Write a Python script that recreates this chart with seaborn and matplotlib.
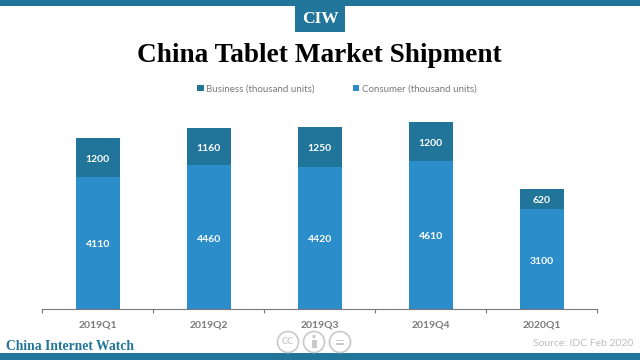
import matplotlib
matplotlib.use("Agg")
import matplotlib.pyplot as plt
from matplotlib.patches import Rectangle, Ellipse
import pandas as pd
import seaborn as sns

quarters = ["2019Q1", "2019Q2", "2019Q3", "2019Q4", "2020Q1"]
consumer = [4110, 4460, 4420, 4610, 3100]
business = [1200, 1160, 1250, 1200, 620]
total = [c + b for c, b in zip(consumer, business)]

DARK = "#21759b"
LIGHT = "#2b8dca"
GREY = "#7a7a7a"
W, H = 640, 360

sns.set_theme(style="white")
plt.rcParams["font.family"] = ["Lato", "DejaVu Sans"]
fig = plt.figure(figsize=(6.4, 3.6), dpi=100)
ax = fig.add_axes([42.3 / W, 1 - 309 / H, 555 / W, 209 / H])

df = pd.DataFrame({"q": quarters, "consumer": consumer, "business": business, "total": total})
# Stack: draw totals (business colour) behind, consumer in front
sns.barplot(data=df, x="q", y="total", color=DARK, saturation=1, width=0.395, ax=ax, linewidth=0,
            label="Business (thousand units)")
sns.barplot(data=df, x="q", y="consumer", color=LIGHT, saturation=1, width=0.395, ax=ax, linewidth=0,
            label="Consumer (thousand units)")

ax.set_xlim(-0.5, 4.5)
ax.set_ylim(0, 6495)
for i, (c, b) in enumerate(zip(consumer, business)):
    ax.annotate(str(c), (i, c / 2), xytext=(0, -1.5), textcoords="offset points", ha="center", va="center",
                color="white", fontsize=7.5, fontweight="bold")
    ax.annotate(str(b), (i, c + b / 2), xytext=(0, -1.2), textcoords="offset points", ha="center", va="center",
                color="white", fontsize=7.5, fontweight="bold")

ax.set_xlabel("")
ax.set_ylabel("")
ax.set_yticks([])
ax.set_xticks([i - 0.5 for i in range(6)], minor=True)
ax.set_xticks(range(5), quarters)
ax.tick_params(axis="x", which="major", length=0, pad=8, labelsize=7.5, labelcolor=GREY)
ax.tick_params(axis="x", which="minor", length=3, width=0.8, color=GREY, bottom=True, direction="out")
for lab in ax.get_xticklabels():
    lab.set_fontweight("bold")
for s in ["top", "left", "right"]:
    ax.spines[s].set_visible(False)
ax.spines["bottom"].set_color(GREY)
ax.spines["bottom"].set_linewidth(0.8)

leg = ax.legend(loc="center", bbox_to_anchor=(337 / W, 1 - 89 / H), bbox_transform=fig.transFigure,
                ncol=2, frameon=False, fontsize=7.0, handlelength=0.65, handleheight=0.65,
                handletextpad=0.3, columnspacing=3.9, labelcolor=GREY)

def rect(x0, y0, x1, y1, color):
    fig.add_artist(Rectangle((x0 / W, 1 - y1 / H), (x1 - x0) / W, (y1 - y0) / H,
                             transform=fig.transFigure, color=color, lw=0))

rect(0, 0, W, 6, DARK)
rect(0, 353, W, H, DARK)
rect(295, 6, 345, 32, DARK)
fig.text(320 / W, 1 - 19 / H, "CIW", ha="center", va="center", color="white", fontsize=12.5,
         fontweight="bold", family="Liberation Serif")
fig.text(319.5 / W, 1 - 56 / H, "China Tablet Market Shipment", ha="center", va="center", color="black",
         fontsize=19.6, fontweight="bold", family="Liberation Serif")
fig.text(6 / W, 1 - 346 / H, "China Internet Watch", ha="left", va="center", color=DARK, fontsize=9.85,
         fontweight="bold", family="Liberation Serif")
fig.text(633 / W, 1 - 343 / H, "Source: IDC Feb 2020", ha="right", va="center", color="#bdbdbd", fontsize=7.5)

# Licence icons
ICON = "#c9c9c9"
for cx in (288, 314, 340):
    fig.add_artist(Ellipse((cx / W, 1 - 342 / H), 21 / W, 21 / H, transform=fig.transFigure,
                           fc="white", ec=ICON, lw=1.2))
fig.text(288 / W, 1 - 342 / H, "CC", ha="center", va="center", color=ICON, fontsize=6.5, fontweight="bold")
fig.add_artist(Ellipse((314 / W, 1 - 336.5 / H), 3.5 / W, 3.5 / H, transform=fig.transFigure, fc=ICON, ec="none"))
rect(311.5, 339.5, 316.5, 348, ICON)
rect(336, 339.5, 344, 341, ICON)
rect(336, 343, 344, 344.5, ICON)

fig.savefig("out.png", dpi=100)
